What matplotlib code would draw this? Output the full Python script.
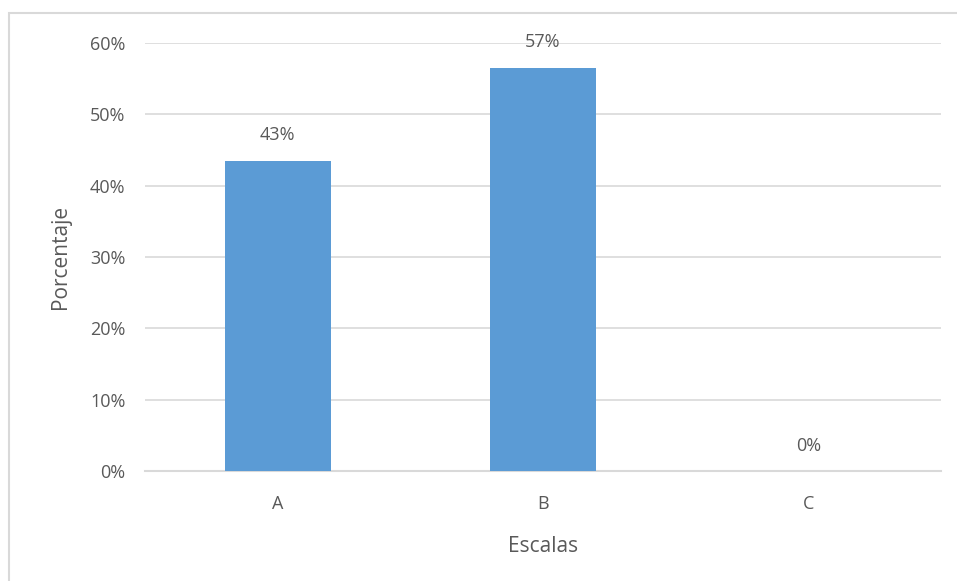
import matplotlib.pyplot as plt
from matplotlib.patches import Rectangle
from matplotlib.ticker import FuncFormatter

categorias = ['A', 'B', 'C']
porcentajes = [43.48, 56.52, 0.0]
etiquetas = ['43%', '57%', '0%']
yticks = [0, 10, 20, 30, 40, 50, 60]

gris = '#595959'
plt.rcParams['font.family'] = ['Open Sans', 'DejaVu Sans']

fig = plt.figure(figsize=(9.57, 5.81), dpi=100)
W, H = 957, 581
ax = fig.add_axes([145 / W, 1 - 471 / H, (941 - 145) / W, (471 - 43) / H])

# marco del grafico
fig.patches.append(Rectangle((9 / W, -0.1), 1.0, 1 - 13 / H + 0.1,
                             transform=fig.transFigure, fill=False,
                             edgecolor='#D9D9D9', lw=1.5))

x = range(len(categorias))
ax.bar(x, porcentajes, width=0.4, color='#5B9BD5', zorder=3)
for xi, v, t in zip(x, porcentajes, etiquetas):
    ax.text(xi, v + 2.3, t, ha='center', va='bottom', fontsize=13, color=gris)

ax.set_xlim(-0.5, 2.5)
ax.set_ylim(0, 60)
ax.set_yticks(yticks)
ax.yaxis.set_major_formatter(FuncFormatter(lambda v, p: f'{v:.0f}%'))
ax.set_xticks(list(x))
ax.set_xticklabels(categorias)
ax.grid(axis='y', color='#D9D9D9', lw=1.2, zorder=0)
for s in ['top', 'right', 'left']:
    ax.spines[s].set_visible(False)
ax.spines['bottom'].set_color('#D9D9D9')
ax.spines['bottom'].set_linewidth(1.5)
ax.tick_params(length=0, colors=gris, labelsize=13)
ax.tick_params(axis='y', pad=14)
ax.tick_params(axis='x', pad=17)
ax.set_xlabel('Escalas', fontsize=15, color=gris, labelpad=17)
ax.set_ylabel('Porcentaje', fontsize=15, color=gris, labelpad=14)

fig.savefig('out.png', dpi=100)
